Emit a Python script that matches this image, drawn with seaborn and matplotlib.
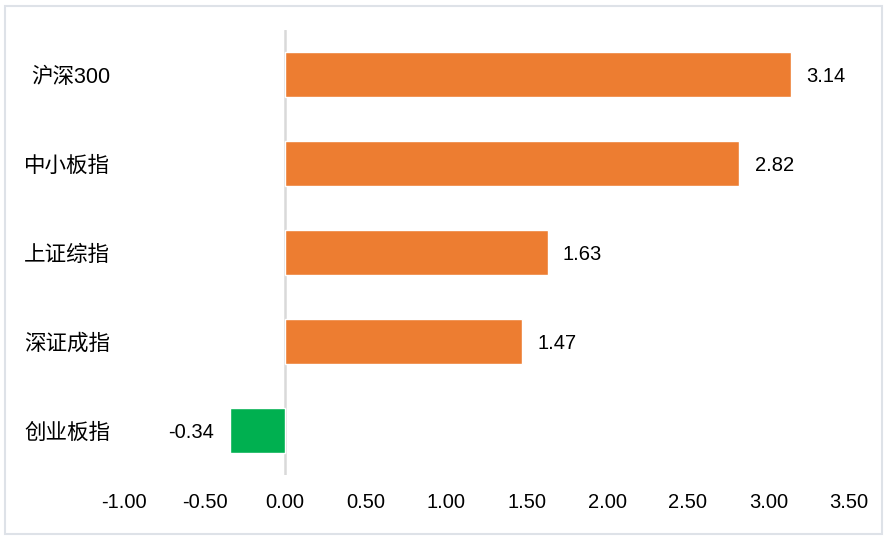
import numpy as np
import pandas as pd
import matplotlib
matplotlib.use('Agg')
import matplotlib.pyplot as plt
from matplotlib.patches import Rectangle
import seaborn as sns

# Data
categories = ['沪深300', '中小板指', '上证综指', '深证成指', '创业板指']
values = [3.14, 2.82, 1.63, 1.47, -0.34]
x_ticks = [-1.0, -0.5, 0.0, 0.5, 1.0, 1.5, 2.0, 2.5, 3.0, 3.5]

sns.set_style('white')
plt.rcParams['font.family'] = ['Liberation Sans', 'Noto Sans CJK SC', 'DejaVu Sans']
plt.rcParams['text.color'] = '#000000'

df = pd.DataFrame({'name': categories, 'value': values})
colors = ['#ED7D31' if v >= 0 else '#00B050' for v in values]

fig = plt.figure(figsize=(8.88, 5.39), dpi=100)
ax = fig.add_axes([124 / 888, 1 - 475 / 539, (849 - 124) / 888, (475 - 30) / 539])

sns.barplot(data=df, x='value', y='name', hue='name', palette=colors,
            legend=False, width=0.5, orient='h', ax=ax, saturation=1)

# Zero line
ax.axvline(0, color='#D9D9D9', linewidth=1.8, zorder=0)

ax.set_xlim(-1.0, 3.5)
ax.set_ylim(4.5, -0.5)
ax.set_xticks(x_ticks)
ax.set_xticklabels([f'{t:.2f}' for t in x_ticks])
ax.set_xlabel('')
ax.set_ylabel('')
ax.tick_params(axis='x', length=0, pad=13, labelsize=14.5, colors='#000000')
ax.tick_params(axis='y', length=0, pad=10, labelsize=15.5, colors='#000000')
for s in ax.spines.values():
    s.set_visible(False)

# Value labels
for i, v in enumerate(values):
    if v >= 0:
        ax.annotate(f'{v:.2f}', (v, i), xytext=(11, -1.5), textcoords='offset points',
                    ha='left', va='center', fontsize=14.5, color='#000000')
    else:
        ax.annotate(f'{v:.2f}', (v, i), xytext=(-12, -1.5), textcoords='offset points',
                    ha='right', va='center', fontsize=14.5, color='#000000')

# Figure border
fig.patches.append(Rectangle((5 / 888, 5 / 539), 877 / 888, 528 / 539,
                             transform=fig.transFigure, fill=False,
                             edgecolor='#DEE2E8', linewidth=1.5))

fig.savefig('out.png', dpi=100)
